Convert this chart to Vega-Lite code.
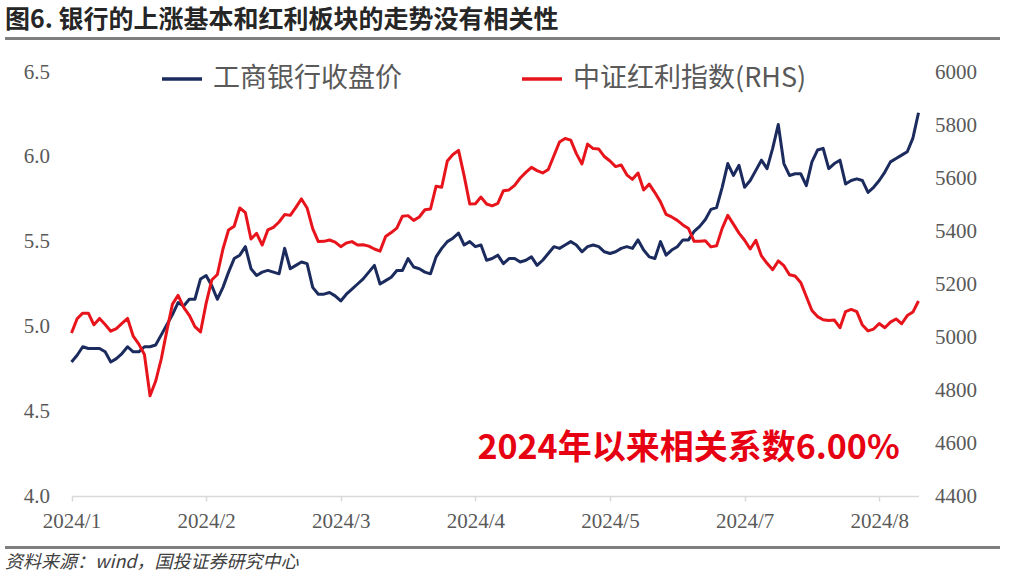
{
  "$schema": "https://vega.github.io/schema/vega-lite/v6.json",
  "background": "white",
  "padding": {"left": 5, "top": 7, "right": 5, "bottom": 0},
  "config": {"view": {"stroke": null}, "font": "Noto Sans CJK SC"},
  "datasets": {
    "series": [
      {"d":"2024-01-02","icbc":4.79,"div":5015},{"d":"2024-01-03","icbc":4.83,"div":5069},{"d":"2024-01-04","icbc":4.88,"div":5090},{"d":"2024-01-05","icbc":4.87,"div":5090},{"d":"2024-01-08","icbc":4.87,"div":5046},{"d":"2024-01-09","icbc":4.87,"div":5070},{"d":"2024-01-10","icbc":4.85,"div":5047},{"d":"2024-01-11","icbc":4.79,"div":5022},{"d":"2024-01-12","icbc":4.81,"div":5032},{"d":"2024-01-15","icbc":4.84,"div":5051},{"d":"2024-01-16","icbc":4.88,"div":5070},{"d":"2024-01-17","icbc":4.85,"div":5003},{"d":"2024-01-18","icbc":4.85,"div":4973},{"d":"2024-01-19","icbc":4.88,"div":4934},{"d":"2024-01-22","icbc":4.88,"div":4778},{"d":"2024-01-23","icbc":4.89,"div":4833},{"d":"2024-01-24","icbc":4.95,"div":4917},{"d":"2024-01-25","icbc":5.01,"div":5024},{"d":"2024-01-26","icbc":5.07,"div":5124},{"d":"2024-01-29","icbc":5.14,"div":5157},{"d":"2024-01-30","icbc":5.12,"div":5112},{"d":"2024-01-31","icbc":5.16,"div":5082},
      {"d":"2024-02-01","icbc":5.16,"div":5039},{"d":"2024-02-02","icbc":5.28,"div":5019},{"d":"2024-02-05","icbc":5.30,"div":5127},{"d":"2024-02-06","icbc":5.24,"div":5215},{"d":"2024-02-07","icbc":5.16,"div":5236},{"d":"2024-02-08","icbc":5.23,"div":5332},{"d":"2024-02-19","icbc":5.32,"div":5404},{"d":"2024-02-20","icbc":5.40,"div":5418},{"d":"2024-02-21","icbc":5.42,"div":5487},{"d":"2024-02-22","icbc":5.47,"div":5469},{"d":"2024-02-23","icbc":5.34,"div":5370},{"d":"2024-02-26","icbc":5.30,"div":5391},{"d":"2024-02-27","icbc":5.32,"div":5347},{"d":"2024-02-28","icbc":5.33,"div":5404},{"d":"2024-02-29","icbc":5.32,"div":5414},
      {"d":"2024-03-01","icbc":5.31,"div":5434},{"d":"2024-03-04","icbc":5.46,"div":5462},{"d":"2024-03-05","icbc":5.34,"div":5459},{"d":"2024-03-06","icbc":5.36,"div":5489},{"d":"2024-03-07","icbc":5.38,"div":5521},{"d":"2024-03-08","icbc":5.37,"div":5487},{"d":"2024-03-11","icbc":5.23,"div":5409},{"d":"2024-03-12","icbc":5.19,"div":5360},{"d":"2024-03-13","icbc":5.19,"div":5361},{"d":"2024-03-14","icbc":5.20,"div":5366},{"d":"2024-03-15","icbc":5.18,"div":5358},{"d":"2024-03-18","icbc":5.15,"div":5341},{"d":"2024-03-19","icbc":5.19,"div":5355},{"d":"2024-03-20","icbc":5.22,"div":5360},{"d":"2024-03-21","icbc":5.25,"div":5347},{"d":"2024-03-22","icbc":5.28,"div":5348},{"d":"2024-03-25","icbc":5.32,"div":5343},{"d":"2024-03-26","icbc":5.36,"div":5332},{"d":"2024-03-27","icbc":5.25,"div":5324},{"d":"2024-03-28","icbc":5.27,"div":5379},{"d":"2024-03-29","icbc":5.29,"div":5394},
      {"d":"2024-04-01","icbc":5.33,"div":5411},{"d":"2024-04-02","icbc":5.33,"div":5456},{"d":"2024-04-03","icbc":5.40,"div":5458},{"d":"2024-04-08","icbc":5.35,"div":5440},{"d":"2024-04-09","icbc":5.34,"div":5453},{"d":"2024-04-10","icbc":5.32,"div":5480},{"d":"2024-04-11","icbc":5.31,"div":5483},{"d":"2024-04-12","icbc":5.41,"div":5569},{"d":"2024-04-15","icbc":5.46,"div":5565},{"d":"2024-04-16","icbc":5.50,"div":5664},{"d":"2024-04-17","icbc":5.52,"div":5689},{"d":"2024-04-18","icbc":5.55,"div":5704},{"d":"2024-04-19","icbc":5.48,"div":5608},{"d":"2024-04-22","icbc":5.50,"div":5502},{"d":"2024-04-23","icbc":5.47,"div":5503},{"d":"2024-04-24","icbc":5.48,"div":5528},{"d":"2024-04-25","icbc":5.39,"div":5502},{"d":"2024-04-26","icbc":5.40,"div":5495},{"d":"2024-04-29","icbc":5.42,"div":5504},{"d":"2024-04-30","icbc":5.37,"div":5552},
      {"d":"2024-05-06","icbc":5.40,"div":5555},{"d":"2024-05-07","icbc":5.40,"div":5572},{"d":"2024-05-08","icbc":5.38,"div":5600},{"d":"2024-05-09","icbc":5.39,"div":5621},{"d":"2024-05-10","icbc":5.41,"div":5640},{"d":"2024-05-13","icbc":5.36,"div":5628},{"d":"2024-05-14","icbc":5.39,"div":5619},{"d":"2024-05-15","icbc":5.43,"div":5632},{"d":"2024-05-16","icbc":5.47,"div":5684},{"d":"2024-05-17","icbc":5.46,"div":5736},{"d":"2024-05-20","icbc":5.48,"div":5749},{"d":"2024-05-21","icbc":5.50,"div":5743},{"d":"2024-05-22","icbc":5.48,"div":5692},{"d":"2024-05-23","icbc":5.44,"div":5653},{"d":"2024-05-24","icbc":5.47,"div":5728},{"d":"2024-05-27","icbc":5.48,"div":5711},{"d":"2024-05-28","icbc":5.47,"div":5709},{"d":"2024-05-29","icbc":5.44,"div":5681},{"d":"2024-05-30","icbc":5.43,"div":5664},{"d":"2024-05-31","icbc":5.44,"div":5643},
      {"d":"2024-06-03","icbc":5.46,"div":5649},{"d":"2024-06-04","icbc":5.47,"div":5612},{"d":"2024-06-05","icbc":5.46,"div":5595},{"d":"2024-06-06","icbc":5.51,"div":5619},{"d":"2024-06-07","icbc":5.45,"div":5555},{"d":"2024-06-11","icbc":5.41,"div":5577},{"d":"2024-06-12","icbc":5.40,"div":5545},{"d":"2024-06-13","icbc":5.50,"div":5510},{"d":"2024-06-14","icbc":5.42,"div":5463},{"d":"2024-06-17","icbc":5.45,"div":5453},{"d":"2024-06-18","icbc":5.47,"div":5440},{"d":"2024-06-19","icbc":5.51,"div":5423},{"d":"2024-06-20","icbc":5.51,"div":5409},{"d":"2024-06-21","icbc":5.56,"div":5361},{"d":"2024-06-24","icbc":5.59,"div":5361},{"d":"2024-06-25","icbc":5.63,"div":5363},{"d":"2024-06-26","icbc":5.69,"div":5340},{"d":"2024-06-27","icbc":5.70,"div":5344},{"d":"2024-06-28","icbc":5.82,"div":5410},
      {"d":"2024-07-01","icbc":5.96,"div":5459},{"d":"2024-07-02","icbc":5.89,"div":5426},{"d":"2024-07-03","icbc":5.95,"div":5392},{"d":"2024-07-04","icbc":5.82,"div":5365},{"d":"2024-07-05","icbc":5.86,"div":5332},{"d":"2024-07-08","icbc":5.92,"div":5365},{"d":"2024-07-09","icbc":5.98,"div":5306},{"d":"2024-07-10","icbc":5.93,"div":5278},{"d":"2024-07-11","icbc":6.05,"div":5254},{"d":"2024-07-12","icbc":6.19,"div":5287},{"d":"2024-07-15","icbc":5.96,"div":5269},{"d":"2024-07-16","icbc":5.89,"div":5235},{"d":"2024-07-17","icbc":5.90,"div":5230},{"d":"2024-07-18","icbc":5.90,"div":5206},{"d":"2024-07-19","icbc":5.83,"div":5153},{"d":"2024-07-22","icbc":5.97,"div":5100},{"d":"2024-07-23","icbc":6.04,"div":5077},{"d":"2024-07-24","icbc":6.05,"div":5065},{"d":"2024-07-25","icbc":5.93,"div":5062},{"d":"2024-07-26","icbc":5.96,"div":5064},{"d":"2024-07-29","icbc":5.98,"div":5035},{"d":"2024-07-30","icbc":5.84,"div":5096},{"d":"2024-07-31","icbc":5.86,"div":5104},
      {"d":"2024-08-01","icbc":5.87,"div":5096},{"d":"2024-08-02","icbc":5.86,"div":5045},{"d":"2024-08-05","icbc":5.79,"div":5023},{"d":"2024-08-06","icbc":5.82,"div":5030},{"d":"2024-08-07","icbc":5.86,"div":5051},{"d":"2024-08-08","icbc":5.91,"div":5035},{"d":"2024-08-09","icbc":5.97,"div":5056},{"d":"2024-08-12","icbc":5.99,"div":5068},{"d":"2024-08-13","icbc":6.01,"div":5050},{"d":"2024-08-14","icbc":6.03,"div":5081},{"d":"2024-08-15","icbc":6.11,"div":5094},{"d":"2024-08-16","icbc":6.26,"div":5136}
    ]
  },
  "bounds": "flush",
  "spacing": 32,
  "vconcat": [
    {
      "width": 995,
      "height": 3,
      "view": {"fill": "#7f7f7f", "stroke": null},
      "title": {"text": "图6. 银行的上涨基本和红利板块的走势没有相关性", "anchor": "start", "font": "Noto Sans CJK SC", "fontSize": 25, "fontWeight": "bold", "color": "#262626", "offset": 0},
      "data": {"values": [{}]},
      "mark": {"type": "text", "text": ""},
      "encoding": {}
    },
    {
      "width": 913.5,
      "height": 442,
      "data": {"name": "series"},
      "encoding": {
        "x": {
          "field": "d", "type": "ordinal", "sort": "ascending",
          "scale": {"type": "point", "padding": 0, "range": [66.5, 913.5]},
          "axis": {
            "values": ["2024-01-02","2024-02-05","2024-03-18","2024-04-23","2024-05-30","2024-07-04","2024-08-07"],
            "labelExpr": "slice(datum.value,0,4) + '/' + toNumber(slice(datum.value,5,7))",
            "title": null, "labelAngle": 0, "grid": false, "offset": -18,
            "labelFont": "Liberation Serif", "labelFontSize": 21, "labelColor": "#595959",
            "domainColor": "#d9d9d9", "domainWidth": 1.5, "tickColor": "#d9d9d9", "tickSize": 5, "tickWidth": 1.5, "labelPadding": 9
          }
        }
      },
      "layer": [
        {
          "layer": [
            {
              "mark": {"type": "line", "strokeWidth": 3, "strokeJoin": "round"},
              "encoding": {
                "y": {
                  "field": "icbc", "type": "quantitative",
                  "scale": {"domain": [4, 6.5], "zero": false, "nice": false, "range": [424, 0]},
                  "axis": {"orient": "left", "offset": -66.5, "values": [4, 4.5, 5, 5.5, 6, 6.5], "format": ".1f", "title": null, "domain": false, "ticks": false, "grid": false, "labelFont": "Liberation Serif", "labelFontSize": 21, "labelColor": "#595959", "labelPadding": 22}
                },
                "color": {
                  "datum": "工商银行收盘价",
                  "scale": {"domain": ["工商银行收盘价", "中证红利指数(RHS)"], "range": ["#1c2b5e", "#e8141c"]},
                  "legend": {"orient": "none", "legendX": 155, "legendY": 20, "direction": "horizontal", "title": null, "symbolType": "stroke", "symbolSize": 1600, "symbolStrokeWidth": 3.5, "labelFont": "Noto Sans CJK SC", "labelFontSize": 27, "labelColor": "#595959", "labelOffset": 9, "labelLimit": 400, "columnPadding": 113}
                }
              }
            },
            {
              "data": {"values": [{"note": "2024年以来相关系数6.00%"}]},
              "mark": {"type": "text", "font": "Noto Sans CJK SC", "fontSize": 34, "fontWeight": "bold", "color": "#e60012", "align": "center", "baseline": "middle"},
              "encoding": {
                "x": {"datum": "2024-06-20", "type": "ordinal"},
                "y": {"datum": 4.28, "type": "quantitative"},
                "text": {"field": "note"}
              }
            }
          ]
        },
        {
          "mark": {"type": "line", "strokeWidth": 3, "strokeJoin": "round"},
          "encoding": {
            "y": {
              "field": "div", "type": "quantitative",
              "scale": {"domain": [4400, 6000], "zero": false, "nice": false, "range": [424, 0]},
              "axis": {"orient": "right", "values": [4400, 4600, 4800, 5000, 5200, 5400, 5600, 5800, 6000], "format": "d", "title": null, "domain": false, "ticks": false, "grid": false, "labelFont": "Liberation Serif", "labelFontSize": 21, "labelColor": "#595959", "labelPadding": 16}
            },
            "color": {"datum": "中证红利指数(RHS)"}
          }
        }
      ],
      "resolve": {"scale": {"y": "independent"}}
    },
    {
      "width": 995,
      "height": 3,
      "view": {"fill": "#7f7f7f", "stroke": null},
      "title": {"text": "资料来源：wind，国投证券研究中心", "orient": "bottom", "anchor": "start", "font": "Noto Sans CJK SC", "fontSize": 18, "fontStyle": "italic", "fontWeight": "normal", "color": "#404040", "offset": 1},
      "data": {"values": [{}]},
      "mark": {"type": "text", "text": ""},
      "encoding": {}
    }
  ]
}
